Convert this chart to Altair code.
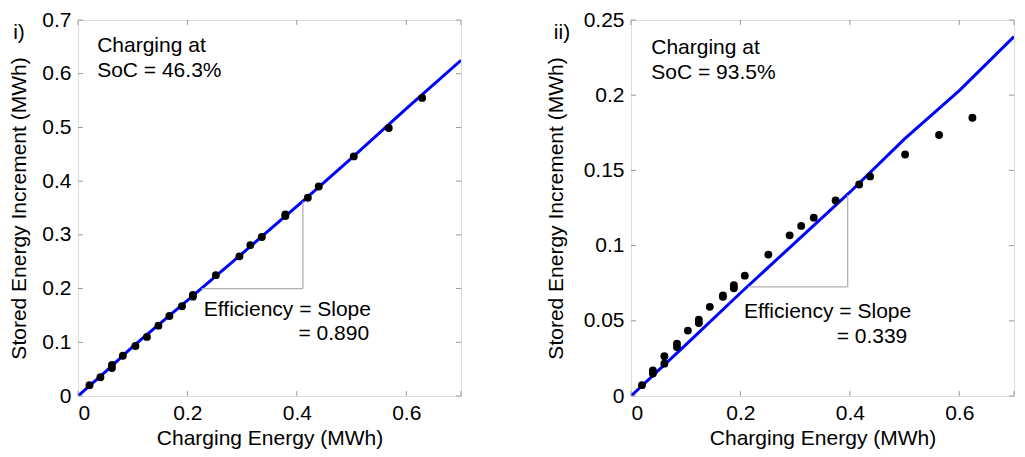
import altair as alt
import pandas as pd

# ---------------- data ----------------
# Panel i) SoC = 46.3%
p1_x = [0.021, 0.041, 0.062, 0.062, 0.082, 0.105, 0.126, 0.147, 0.167, 0.190,
        0.210, 0.210, 0.252, 0.295, 0.315, 0.336, 0.379, 0.379, 0.420, 0.440,
        0.504, 0.568, 0.629]
p1_y = [0.020, 0.035, 0.052, 0.058, 0.075, 0.093, 0.110, 0.131, 0.149, 0.167,
        0.185, 0.188, 0.225, 0.260, 0.281, 0.296, 0.335, 0.338, 0.369, 0.390,
        0.446, 0.499, 0.555]
l1_x = [0.0, 0.05, 0.1, 0.2, 0.3, 0.37, 0.41, 0.5, 0.6, 0.7]
l1_y = [0.0, 0.045, 0.092, 0.178, 0.265, 0.327, 0.362, 0.443, 0.535, 0.625]

# Panel ii) SoC = 93.5%
p2_x = [0.020, 0.040, 0.040, 0.061, 0.061, 0.084, 0.084, 0.104, 0.124, 0.124,
        0.144, 0.168, 0.168, 0.188, 0.188, 0.208, 0.251, 0.290, 0.311, 0.334,
        0.374, 0.417, 0.437, 0.501, 0.563, 0.624]
p2_y = [0.0072, 0.0150, 0.0170, 0.0215, 0.0265, 0.0325, 0.0347, 0.0435, 0.0485, 0.0507,
        0.0593, 0.0660, 0.0668, 0.0716, 0.0736, 0.0800, 0.0940, 0.1068, 0.1131, 0.1186,
        0.1300, 0.1406, 0.1460, 0.1606, 0.1735, 0.1850]
l2_x = [0.0, 0.1, 0.2, 0.3, 0.4, 0.5, 0.6, 0.7]
l2_y = [0.0, 0.034, 0.0685, 0.102, 0.1355, 0.171, 0.203, 0.239]

x_ticks = [0, 0.2, 0.4, 0.6]
y1_ticks = [0, 0.1, 0.2, 0.3, 0.4, 0.5, 0.6, 0.7]
y2_ticks = [0, 0.05, 0.1, 0.15, 0.2, 0.25]

FONT = "Liberation Sans"
FS = 21
W, H = 383, 376
GRAY = "#9a9a9a"


def panel(px, py, lx, ly, ymax, yticks, tri, texts, tag, tag_x, title_pad):
    xs = alt.Scale(domain=[0, 0.7], nice=False, zero=True)
    ys = alt.Scale(domain=[0, ymax], nice=False, zero=True)
    xax = alt.Axis(values=x_ticks, format="~g", title="Charging Energy (MWh)",
                   grid=False, ticks=False, domain=False, labelPadding=6,
                   titlePadding=4, labelFont=FONT, titleFont=FONT,
                   labelFontSize=FS, titleFontSize=FS, titleFontWeight="normal",
                   labelColor="black", titleColor="black")
    yax = alt.Axis(values=yticks, format="~g", title="Stored Energy Increment (MWh)",
                   grid=False, ticks=False, domain=False, labelPadding=7,
                   titlePadding=title_pad, labelFont=FONT, titleFont=FONT,
                   labelFontSize=FS, titleFontSize=FS, titleFontWeight="normal",
                   labelColor="black", titleColor="black")

    pts = pd.DataFrame({"x": px, "y": py})
    ln = pd.DataFrame({"x": lx, "y": ly})

    line = alt.Chart(ln).mark_line(color="#0000ff", strokeWidth=3, clip=True).encode(
        x=alt.X("x:Q", scale=xs, axis=xax),
        y=alt.Y("y:Q", scale=ys, axis=yax),
    )
    dots = alt.Chart(pts).mark_circle(color="black", size=62, opacity=1).encode(
        x=alt.X("x:Q", scale=xs), y=alt.Y("y:Q", scale=ys)
    )
    (hx0, hx1, hy), (vx, vy0, vy1) = tri
    tri_df = pd.DataFrame({"x": [hx0, vx], "x2": [hx1, vx],
                           "y": [hy, vy0], "y2": [hy, vy1]})
    triangle = alt.Chart(tri_df).mark_rule(color="#b0b0b0", strokeWidth=1.3).encode(
        x=alt.X("x:Q", scale=xs), x2="x2:Q",
        y=alt.Y("y:Q", scale=ys), y2="y2:Q",
    )
    txt_df = pd.DataFrame(texts, columns=["x", "y", "t", "a"])
    layers = [line, triangle, dots]
    for a in ["left", "right"]:
        sub = txt_df[txt_df["a"] == a]
        layers.append(
            alt.Chart(sub).mark_text(align=a, baseline="middle", font=FONT,
                                     fontSize=FS, color="black").encode(
                x=alt.X("x:Q", scale=xs), y=alt.Y("y:Q", scale=ys), text="t:N")
        )
    # tag label i) / ii)
    layers.append(
        alt.Chart(pd.DataFrame({"t": [tag]})).mark_text(
            align="center", baseline="middle", font=FONT, fontSize=FS,
            color="black").encode(x=alt.value(tag_x), y=alt.value(13), text="t:N")
    )
    # inward tick marks on all four sides
    ydf = pd.DataFrame({"v": yticks})
    xdf = pd.DataFrame({"v": x_ticks + [0.7]})
    for a0, a1 in [(0, 5), (W - 5, W)]:
        layers.append(alt.Chart(ydf).mark_rule(color=GRAY, strokeWidth=1).encode(
            y=alt.Y("v:Q", scale=ys), x=alt.value(a0), x2=alt.value(a1)))
    for a0, a1 in [(H - 5, H), (0, 5)]:
        layers.append(alt.Chart(xdf).mark_rule(color=GRAY, strokeWidth=1).encode(
            x=alt.X("v:Q", scale=xs), y=alt.value(a0), y2=alt.value(a1)))
    return alt.layer(*layers).properties(width=W, height=H)


c1 = panel(p1_x, p1_y, l1_x, l1_y, 0.7, y1_ticks,
           ((0.226, 0.411, 0.2), (0.411, 0.2, 0.362)),
           [(0.035, 0.651, "Charging at", "left"),
            (0.035, 0.605, "SoC = 46.3%", "left"),
            (0.23, 0.160, "Efficiency = Slope", "left"),
            (0.532, 0.116, "= 0.890", "right")],
           "i)", -59, 12)
c2 = panel(p2_x, p2_y, l2_x, l2_y, 0.25, y2_ticks,
           ((0.214, 0.396, 0.0725), (0.396, 0.0725, 0.1336)),
           [(0.037, 0.2313, "Charging at", "left"),
            (0.037, 0.2148, "SoC = 93.5%", "left"),
            (0.2066, 0.056, "Efficiency = Slope", "left"),
            (0.505, 0.0395, "= 0.339", "right")],
           "ii)", -69, 17)

chart = alt.hconcat(c1, c2, spacing=82).properties(
    padding={"left": 0, "top": 0, "right": 0, "bottom": 0}
).configure_view(stroke=GRAY, strokeWidth=1).configure(background="white")

chart.save("out.html", embed_options={"renderer": "svg", "actions": False})
